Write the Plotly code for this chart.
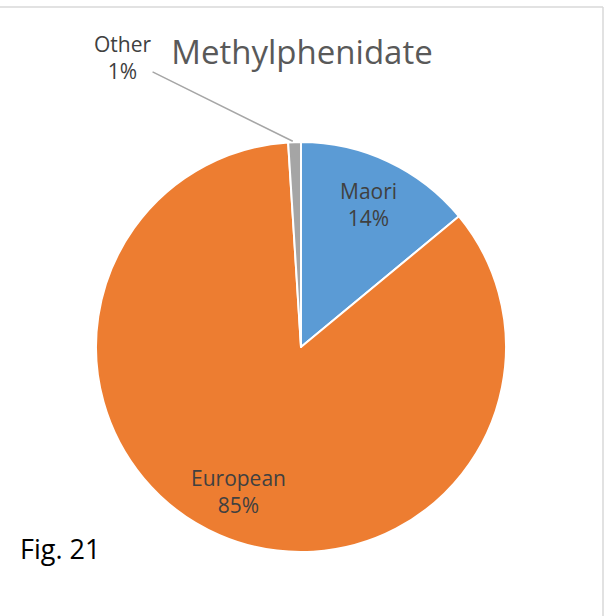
import math
import plotly.graph_objects as go

# Data
categories = ["Maori", "European", "Other"]
values = [14, 85, 1]
colors = ["#5B9BD5", "#ED7D31", "#A5A5A5"]
title_text = "Methylphenidate"
caption_text = "Fig. 21"

W, H = 607, 616
FONT = "Open Sans"
LABEL_FONT = dict(family=FONT, size=21, color="#404040")

# pie placement (paper fractions)
dom_x = [96 / W, 506 / W]
dom_y = [1 - 552 / H, 1 - 142 / H]

fig = go.Figure()
fig.add_trace(go.Pie(
    labels=categories,
    values=values,
    sort=False,
    direction="clockwise",
    rotation=0,
    marker=dict(colors=colors, line=dict(color="white", width=2)),
    textinfo="none",
    showlegend=False,
    hoverinfo="label+percent",
    domain=dict(x=dom_x, y=dom_y),
))

total = sum(values)
cx = (dom_x[0] + dom_x[1]) / 2
cy = (dom_y[0] + dom_y[1]) / 2
rx = (dom_x[1] - dom_x[0]) / 2
ry = (dom_y[1] - dom_y[0]) / 2


def rim_point(frac, k):
    ang = 2 * math.pi * frac
    return cx + k * rx * math.sin(ang), cy + k * ry * math.cos(ang)


annotations = []
start = 0
for i, (lab, v) in enumerate(zip(categories, values)):
    mid = (start + v / 2) / total
    start += v
    txt = f"{lab}<br>{v / total:.0%}"
    if v / total >= 0.05:
        x, y = rim_point(mid, 0.77)
        annotations.append(dict(x=x, y=y, xref="paper", yref="paper", text=txt,
                                xanchor="center", yanchor="middle",
                                showarrow=False, font=LABEL_FONT, align="center"))
    else:
        x, y = rim_point(mid, 1.0)
        annotations.append(dict(x=x, y=y, xref="paper", yref="paper", text=txt,
                                showarrow=True, arrowhead=0, arrowwidth=1.5,
                                arrowcolor="#A6A6A6", ax=-172, ay=-85, standoff=2,
                                font=LABEL_FONT, align="center"))

annotations.append(dict(x=18 / W, y=1 - 548 / H, xref="paper", yref="paper",
                        xanchor="left", yanchor="middle", text=caption_text, showarrow=False,
                        font=dict(family=FONT, size=27, color="#000000")))

shapes = [
    dict(type="line", xref="paper", yref="paper", x0=0, x1=603 / W, y0=1 - 7 / H, y1=1 - 7 / H,
         line=dict(color="#D9D9D9", width=1.5)),
    dict(type="line", xref="paper", yref="paper", x0=603 / W, x1=603 / W, y0=0, y1=1 - 7 / H,
         line=dict(color="#D9D9D9", width=1.5)),
]

fig.update_layout(
    width=W, height=H,
    margin=dict(l=0, r=0, t=0, b=0),
    paper_bgcolor="white",
    plot_bgcolor="white",
    title=dict(text=title_text, x=302 / W, xanchor="center", y=1 - 52 / H, yanchor="middle",
               font=dict(family=FONT, size=33, color="#595959")),
    annotations=annotations,
    shapes=shapes,
)

fig.write_html("out.html", config={"displayModeBar": False},
               post_script="document.body.style.margin='0px';document.body.style.overflow='hidden';")
